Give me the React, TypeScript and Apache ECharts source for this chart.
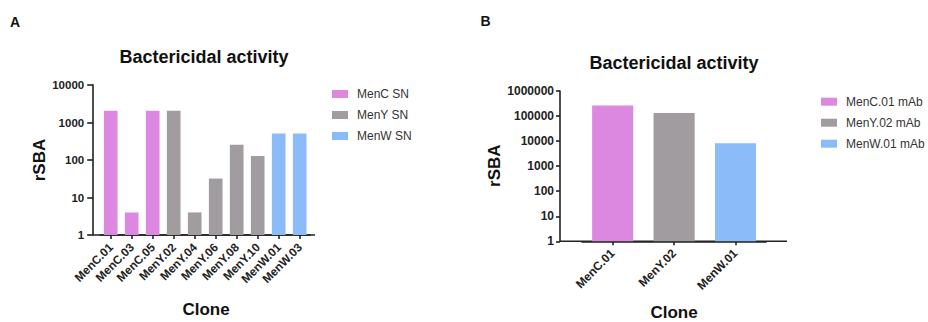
import React, { useEffect, useRef } from "react";
import * as echarts from "echarts";

const clonesA = ["MenC.01", "MenC.03", "MenC.05", "MenY.02", "MenY.04", "MenY.06", "MenY.08", "MenY.10", "MenW.01", "MenW.03"];
const menCSN = [2048, 4, 2048, "-", "-", "-", "-", "-", "-", "-"];
const menYSN = ["-", "-", "-", 2048, 4, 32, 256, 128, "-", "-"];
const menWSN = ["-", "-", "-", "-", "-", "-", "-", "-", 512, 512];

const clonesB = ["MenC.01", "MenY.02", "MenW.01"];
const menCmAb = [262144, "-", "-"];
const menYmAb = ["-", 131072, "-"];
const menWmAb = ["-", "-", 8192];

const PINK = "#DD88E0";
const GRAY = "#A19C9F";
const BLUE = "#8BBBF8";
const FONT = "'Liberation Sans', Arial, sans-serif";
const AX = "#222";

export default function App() {
  const ref = useRef<HTMLDivElement>(null);
  useEffect(() => {
    const chart = echarts.init(ref.current!, undefined, { renderer: "svg" });
    const yAxisCommon = (fs: number, margin: number, tick: number) => ({
      type: "log",
      logBase: 10,
      min: 1,
      axisLine: { show: true, lineStyle: { color: AX, width: 1.6 } },
      axisTick: { show: true, length: tick, lineStyle: { color: AX, width: 1.6 } },
      splitLine: { show: false },
      axisLabel: {
        fontFamily: FONT,
        fontWeight: "bold",
        fontSize: fs,
        color: AX,
        margin,
        formatter: (v: number) => String(Math.round(v)),
      },
    });
    const xAxisCommon = (data: string[], fs: number) => ({
      type: "category",
      data,
      axisLine: { show: true, lineStyle: { color: AX, width: 1.6 } },
      axisTick: { show: true, alignWithLabel: true, length: 4, lineStyle: { color: AX, width: 1.6 } },
      axisLabel: {
        rotate: 45,
        interval: 0,
        fontFamily: FONT,
        fontWeight: "bold",
        fontSize: fs,
        color: AX,
        margin: 10,
      },
    });
    const txt = (x: number, y: number, text: string, fs: number, bold = true, rot = 0) => ({
      type: "text",
      x,
      y,
      rotation: rot,
      style: {
        text,
        fontFamily: FONT,
        fontSize: fs,
        fontWeight: bold ? "bold" : "normal",
        fill: "#111",
        textAlign: "center",
        textVerticalAlign: "middle",
      },
    });
    const bar = (name: string, data: any[], color: string, xi: number, bw: string) => ({
      name,
      type: "bar",
      xAxisIndex: xi,
      yAxisIndex: xi,
      data,
      barWidth: bw,
      barGap: "-100%",
      itemStyle: { color },
    });
    const legendText = { fontFamily: FONT, fontSize: 12, color: "#333", lineHeight: 14, padding: [0, 0, 0, 4] };
    chart.setOption({
      animation: false,
      backgroundColor: "#fff",
      grid: [
        { left: 100.2, top: 85, width: 210, height: 150 },
        { left: 582, top: 91, width: 184.2, height: 150.3 },
      ],
      xAxis: [
        { ...xAxisCommon(clonesA, 11.8), gridIndex: 0 },
        { ...xAxisCommon(clonesB, 12), gridIndex: 1 },
      ],
      yAxis: [
        { ...yAxisCommon(11.5, 9, 6), gridIndex: 0, max: 10000, offset: 7 },
        { ...yAxisCommon(12, 6, 4), gridIndex: 1, max: 1000000, offset: 22 },
      ],
      legend: [
        {
          orient: "vertical",
          left: 332,
          top: 87,
          padding: 0,
          itemWidth: 16,
          itemHeight: 8,
          itemGap: 7,
          icon: "rect",
          data: ["MenC SN", "MenY SN", "MenW SN"],
          textStyle: legendText,
        },
        {
          orient: "vertical",
          left: 821,
          top: 94.7,
          padding: 0,
          itemWidth: 16,
          itemHeight: 8,
          itemGap: 7,
          icon: "rect",
          data: ["MenC.01 mAb", "MenY.02 mAb", "MenW.01 mAb"],
          textStyle: legendText,
        },
      ],
      series: [
        bar("MenC SN", menCSN, PINK, 0, "65%"),
        bar("MenY SN", menYSN, GRAY, 0, "65%"),
        bar("MenW SN", menWSN, BLUE, 0, "65%"),
        bar("MenC.01 mAb", menCmAb, PINK, 1, "67%"),
        bar("MenY.02 mAb", menYmAb, GRAY, 1, "67%"),
        bar("MenW.01 mAb", menWmAb, BLUE, 1, "67%"),
      ],
      graphic: [
        { type: "line", shape: { x1: 93.2, y1: 235, x2: 315, y2: 235 }, style: { stroke: AX, lineWidth: 1.6 } },
        { type: "line", shape: { x1: 560, y1: 241.3, x2: 787, y2: 241.3 }, style: { stroke: AX, lineWidth: 1.6 } },
        txt(15, 22, "A", 14),
        txt(485.5, 20.5, "B", 14),
        txt(204, 57.3, "Bactericidal activity", 18),
        txt(674, 62.7, "Bactericidal activity", 18),
        txt(39, 160, "rSBA", 17, true, Math.PI / 2),
        txt(494, 165.7, "rSBA", 17, true, Math.PI / 2),
        txt(206, 309, "Clone", 17),
        txt(674, 312.5, "Clone", 17),
      ],
    });
    return () => chart.dispose();
  }, []);
  return <div ref={ref} style={{ position: "absolute", left: 0, top: 0, width: 928, height: 322 }} />;
}
